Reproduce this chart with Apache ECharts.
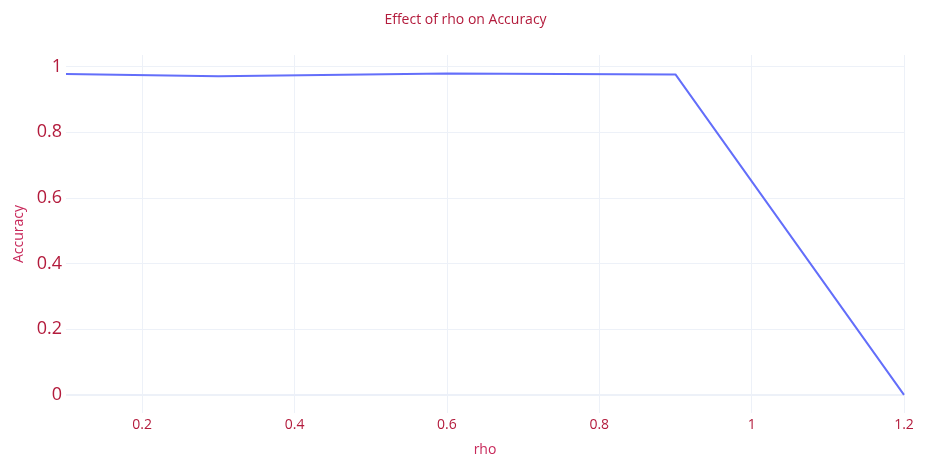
<!DOCTYPE html>
<html><head><meta charset="utf-8">
<script src="https://cdn.jsdelivr.net/npm/echarts@6/dist/echarts.min.js"></script>
<style>html,body{margin:0;padding:0;background:#fff}#c{width:931px;height:455px}</style>
</head><body><div id="c"></div>
<script>
const rho = [0.1, 0.3, 0.6, 0.9, 1.2];
const accuracy = [0.977, 0.970, 0.979, 0.976, 0.0];
const xTicks = [0.2, 0.4, 0.6, 0.8, 1, 1.2];
const yTicks = [0, 0.2, 0.4, 0.6, 0.8, 1];

const chart = echarts.init(document.getElementById('c'));
const red = '#b31b3c';
const grid = '#edf1f8';
chart.setOption({
  animation: false,
  title: {
    text: 'Effect of rho on Accuracy', left: 'center', top: 8,
    textStyle: {fontFamily: 'Open Sans', fontSize: 14, fontWeight: 'normal', color: red}
  },
  grid: {left: 66, right: 27, top: 55, bottom: 42, containLabel: false, outerBoundsMode: 'none'},
  xAxis: {
    type: 'value', min: 0.1, max: 1.2,
    name: 'rho', nameLocation: 'middle', nameGap: 30,
    nameTextStyle: {fontFamily: 'Open Sans', fontSize: 14, color: '#c8285a'},
    axisLine: {show: false},
    axisTick: {show: false, customValues: xTicks},
    axisLabel: {
      fontFamily: 'Open Sans', fontSize: 14, color: red, margin: 5,
      customValues: xTicks, formatter: v => String(Math.round(v * 10) / 10)
    },
    splitLine: {show: true, lineStyle: {color: grid, width: 1}}
  },
  yAxis: {
    type: 'value', min: -0.055, max: 1.035,
    name: 'Accuracy', nameLocation: 'middle', nameGap: 27, nameRotate: 90,
    nameTextStyle: {fontFamily: 'Open Sans', fontSize: 14, color: '#c8285a'},
    axisLine: {show: false},
    axisTick: {show: false, customValues: yTicks},
    axisLabel: {
      fontFamily: 'Open Sans', fontSize: 18, color: red, margin: 4,
      customValues: yTicks, formatter: v => String(Math.round(v * 10) / 10)
    },
    splitLine: {show: true, lineStyle: {color: grid, width: 1}}
  },
  series: [{
    type: 'line', data: rho.map((x, i) => [x, accuracy[i]]),
    showSymbol: false, lineStyle: {color: '#636efa', width: 2}, z: 5
  }, {
    type: 'line', data: [[0.1, 0], [1.2, 0]], showSymbol: false, silent: true,
    lineStyle: {color: grid, width: 2}, z: 1
  }]
});
</script></body></html>
